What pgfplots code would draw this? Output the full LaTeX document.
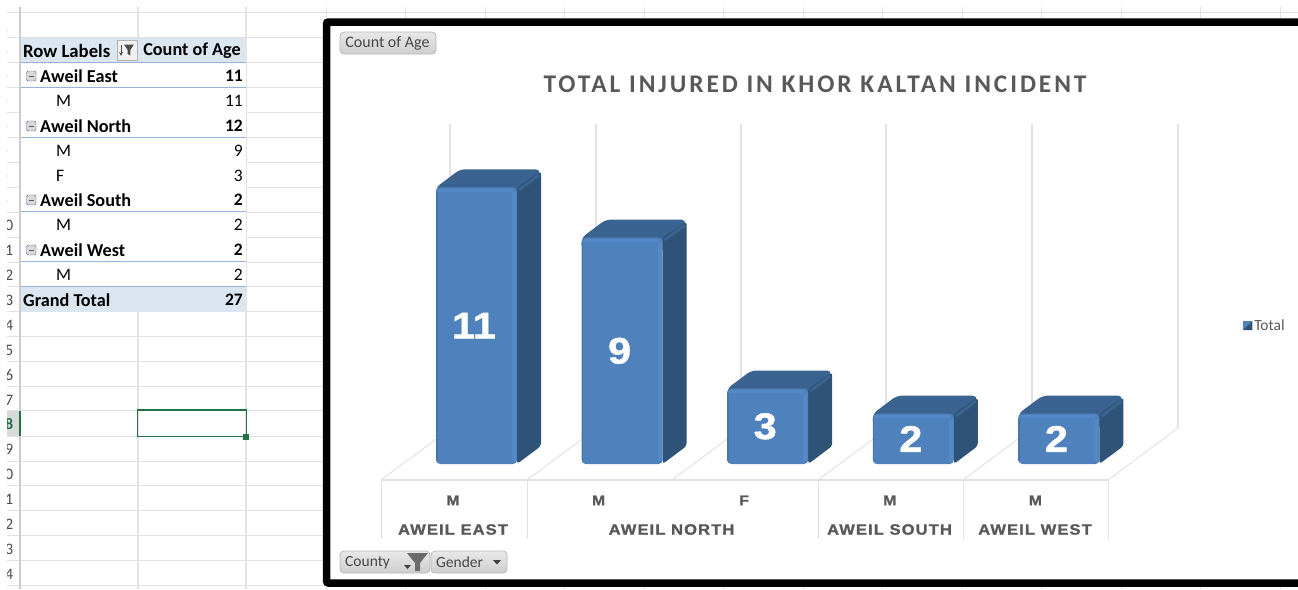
\documentclass[border=0pt]{standalone}
\usepackage{pgfplots}
\pgfplotsset{compat=1.18}
\usepackage{fontspec}
\setmainfont{Carlito}
\newfontfamily\arb[FakeBold=1.2,FakeStretch=1.12]{Liberation Sans Bold}
\newfontfamily\arbsp[FakeBold=1.3,FakeStretch=1.1,LetterSpace=7.5]{Liberation Sans Bold}
\newfontfamily\titlef[LetterSpace=11.5]{Carlito Bold}
\newcommand{\fs}[1]{\fontsize{#1}{#1}\selectfont}
\definecolor{front}{HTML}{4F81BD}
\definecolor{frontlt}{HTML}{5488C6}
\definecolor{frontdk}{HTML}{4675AE}
\definecolor{sidec}{HTML}{2F5277}
\definecolor{topc}{HTML}{3B6391}
\definecolor{gridc}{HTML}{E2E2E2}
\definecolor{band}{HTML}{DCE6F1}
\definecolor{bandline}{HTML}{95B3D7}
\definecolor{xlgreen}{HTML}{217346}
\definecolor{labc}{HTML}{595959}
\pgfplotstableread{
x y label
0 5.5 11
1 4.5 9
2 1.5 3
3 1 2
4 1 2
}\barlabels
\begin{document}
\begin{tikzpicture}
\useasboundingbox (0,0) rectangle (1298pt,-589pt);
\begin{scope}[x=1pt,y=-1pt]
\fill[white] (0,0) rectangle (1298,589);
% --- sheet grid
\begin{scope}
\clip (7,7) rectangle (1298,589);
\foreach \y in {37,62,87,112,137,162,187,212,237,262,286,311,336,361,386,410,436,461,485,510,535,560,585}
  \draw[gridc,line width=1pt] (7,\y) -- (323,\y);
\draw[gridc,line width=1pt] (7,12.5) -- (1298,12.5);
\foreach \x in {138,246}
  \draw[gridc,line width=1.2pt] (\x,7) -- (\x,589);
\foreach \x in {326,405,485,564,644,723,803,882,962,1041,1121,1200,1280}{
  \draw[gridc,line width=1pt] (\x,7) -- (\x,18);
  \draw[gridc,line width=1pt] (\x,586) -- (\x,589);}
\fill[gray!30] (7,411) rectangle (20,436);
\foreach \n/\y in {0/225,1/250,2/275,3/300,4/325,5/350,6/375,7/400,9/449,0/474,1/499,2/524,3/549,4/574}
  \node[anchor=east,inner sep=0pt,text=black!70] at (13.5,\y) {\fs{16}\n};
\node[anchor=east,inner sep=0pt,text=xlgreen] at (13.5,424) {\fs{16}\textbf{8}};
\foreach \y in {30,52,76,101,126,151,176,201}
  \fill[cyan!25] (7.5,\y) circle (0.9);
\end{scope}
\draw[gray!40,line width=1.6pt] (20,7) -- (20,589);
\fill[xlgreen] (18.5,411) rectangle (20.5,436);
% --- pivot table
\fill[white] (20.8,62) rectangle (245.5,286);
\fill[band] (20.8,37.5) rectangle (245.5,62);
\fill[band] (20.8,286) rectangle (245.5,311.5);
\foreach \y in {62,87,137,211,261,286}
  \draw[bandline,line width=0.9pt] (20.8,\y) -- (246,\y);
\foreach \y in {112,162,187,237}
  \draw[gridc] (246,\y) -- (323,\y);
\node[anchor=west,inner sep=0pt] at (23,51) {\fs{18.7}\textbf{Row Labels}};
\draw[gray!60,fill=gray!12] (117,40.5) rectangle (137,60);
\fill[black!70] (124,44.5) -- (134,44.5) -- (130.3,50) -- (130.3,55.5) -- (127.7,54) -- (127.7,50) -- cycle;
\draw[black!70,line width=0.8pt,-stealth] (121,45) -- (121,56);
\node[anchor=east,inner sep=0pt] at (241,51) {\fs{18.2}\textbf{Count of Age}};
\foreach \t/\v/\y in {Aweil East/11/76,Aweil North/12/126,Aweil South/2/200,Aweil West/2/250}{
  \draw[gray!70!blue,fill=gray!30,rounded corners=1.5pt] (26.5,\y-5) rectangle (36,\y+5);
  \draw[black!65,line width=0.9pt] (28.5,\y) -- (34,\y);
  \node[anchor=west,inner sep=0pt] at (40,\y) {\fs{18.2}\textbf{\t}};
  \node[anchor=east,inner sep=0pt] at (243,\y) {\fs{17.5}\textbf{\v}};}
\foreach \t/\v/\y in {M/11/101,M/9/151,F/3/176,M/2/225,M/2/275}{
  \node[anchor=west,inner sep=0pt] at (56,\y) {\fs{17.5}\t};
  \node[anchor=east,inner sep=0pt] at (243,\y) {\fs{17.5}\v};}
\node[anchor=west,inner sep=0pt] at (23,300) {\fs{18.2}\textbf{Grand Total}};
\node[anchor=east,inner sep=0pt] at (243,300) {\fs{17.5}\textbf{27}};
% selection
\draw[xlgreen,line width=1.6pt] (137.5,410) rectangle (246.5,436.5);
\fill[xlgreen] (243,433.5) rectangle (249,439.5);
% --- chart frame
\fill[white] (326,22) rectangle (1298,583);
\draw[black,line width=7.5pt,rounded corners=2pt] (1310,22) -- (326.5,22) -- (326.5,583) -- (1310,583);
% --- 3-D wall and floor lines
\foreach \x in {450,596,741,886,1032,1178}
  \draw[gridc,line width=1.2pt] (\x,124) -- (\x,428);
\foreach \x in {381,527,672,818,963,1108}
  \draw[gridc,line width=1pt] (\x,480) -- (\x+70,428);
\draw[gridc,line width=1.2pt] (381,480) -- (1108,480);
\foreach \x in {381,527,818,963,1108}
  \draw[gridc,line width=1pt] (\x,480) -- (\x,539);
% --- title
\node[inner sep=0pt,text=labc] at (815,84) {\fs{25.4}\titlef TOTAL INJURED IN KHOR KALTAN INCIDENT};
% --- chart axis spanning the whole picture: 1 category = 145.6 px, 1 unit = 25.15 px
\begin{axis}[
  at={(0pt,-589pt)},anchor=south west,
  scale only axis,width=1298pt,height=589pt,
  xmin=-3.2727,xmax=5.642,ymin=-4.97,ymax=18.45,
  axis line style={draw=none},major tick length=0pt,
  ytick=\empty,xtick={0,1,2,3,4},xticklabels={M,M,F,M,M},
  xticklabel style={xshift=-23.5pt,yshift=97pt,text=labc,font=\arb\fs{14}},
  clip=false,unbounded coords=jump,
  legend style={at={(axis cs:5.415,5.5)},anchor=center,draw=none,fill=none,font=\fs{15.5}\color{labc},inner sep=0pt,
    legend cell align=left},
  legend image code/.code={\fill[front,sharp corners] (0pt,-4.5pt) rectangle (9pt,4.5pt);
    \fill[sidec,sharp corners] (9pt,-4.5pt) -- (9pt,4.5pt) -- (0pt,-4.5pt) -- cycle;},
]
% top faces (running on under the front and side faces)
\addplot[forget plot,fill=topc,draw=none,rounded corners=5pt] coordinates {(-0.278,10.5)(-0.278,11)(-0.113,11.716)(0.443,11.716)(0.35,10.5)} --cycle;
\addplot[forget plot,fill=topc,draw=none,rounded corners=5pt] coordinates {(0.722,8.5)(0.722,9)(0.887,9.716)(1.443,9.716)(1.35,8.5)} --cycle;
\addplot[forget plot,fill=topc,draw=none,rounded corners=5pt] coordinates {(1.722,2.5)(1.722,3)(1.887,3.716)(2.443,3.716)(2.35,2.5)} --cycle;
\addplot[forget plot,fill=topc,draw=none,rounded corners=5pt] coordinates {(2.722,1.5)(2.722,2)(2.887,2.716)(3.443,2.716)(3.35,1.5)} --cycle;
\addplot[forget plot,fill=topc,draw=none,rounded corners=5pt] coordinates {(3.722,1.5)(3.722,2)(3.887,2.716)(4.443,2.716)(4.35,1.5)} --cycle;
% side faces
\addplot[forget plot,fill=sidec,draw=none,rounded corners=3pt] coordinates {(0.278,0)(0.443,0.716)(0.443,11.65)(0.278,11)} --cycle;
\addplot[forget plot,fill=sidec,draw=none,rounded corners=3pt] coordinates {(1.278,0)(1.443,0.716)(1.443,9.65)(1.278,9)} --cycle;
\addplot[forget plot,fill=sidec,draw=none,rounded corners=3pt] coordinates {(2.278,0)(2.443,0.716)(2.443,3.65)(2.278,3)} --cycle;
\addplot[forget plot,fill=sidec,draw=none,rounded corners=3pt] coordinates {(3.278,0)(3.443,0.716)(3.443,2.65)(3.278,2)} --cycle;
\addplot[forget plot,fill=sidec,draw=none,rounded corners=3pt] coordinates {(4.278,0)(4.443,0.716)(4.443,2.65)(4.278,2)} --cycle;
% bevel between top and side
\addplot[forget plot,topc,line width=3pt] coordinates {(0.292,10.9)(0.43,11.5)(nan,nan)(1.292,8.9)(1.43,9.5)(nan,nan)(2.292,2.9)(2.43,3.5)(nan,nan)(3.292,1.9)(3.43,2.5)(nan,nan)(4.292,1.9)(4.43,2.5)};
% front faces
\addplot[fill=front,draw=none,rounded corners=4pt] coordinates {(-0.278,0)(-0.278,11)(0.278,11)(0.278,0)} --cycle;
\addlegendentry{Total}
\addplot[forget plot,fill=front,draw=none,rounded corners=4pt] coordinates {(0.722,0)(0.722,9)(1.278,9)(1.278,0)} --cycle;
\addplot[forget plot,fill=front,draw=none,rounded corners=4pt] coordinates {(1.722,0)(1.722,3)(2.278,3)(2.278,0)} --cycle;
\addplot[forget plot,fill=front,draw=none,rounded corners=4pt] coordinates {(2.722,0)(2.722,2)(3.278,2)(3.278,0)} --cycle;
\addplot[forget plot,fill=front,draw=none,rounded corners=4pt] coordinates {(3.722,0)(3.722,2)(4.278,2)(4.278,0)} --cycle;
% bevel highlights
\addplot[forget plot,frontlt,line width=4pt] coordinates {(0.258,0.1)(0.258,10.8)(nan,nan)(1.258,0.1)(1.258,8.8)(nan,nan)(2.258,0.1)(2.258,2.8)(nan,nan)(3.258,0.1)(3.258,1.8)(nan,nan)(4.258,0.1)(4.258,1.8)};
\addplot[forget plot,frontlt,line width=3pt] coordinates {(-0.26,10.87)(0.25,10.87)(nan,nan)(0.74,8.87)(1.25,8.87)(nan,nan)(1.74,2.87)(2.25,2.87)(nan,nan)(2.74,1.87)(3.25,1.87)(nan,nan)(3.74,1.87)(4.25,1.87)};
\addplot[forget plot,frontdk,line width=1.5pt] coordinates {(-0.273,0.1)(-0.273,10.8)(nan,nan)(0.727,0.1)(0.727,8.8)(nan,nan)(1.727,0.1)(1.727,2.8)(nan,nan)(2.727,0.1)(2.727,1.8)(nan,nan)(3.727,0.1)(3.727,1.8)};
% bar labels
\addplot[forget plot,draw=none,mark=none,point meta=explicit symbolic,nodes near coords,
  nodes near coords style={anchor=center,inner sep=0pt,xshift=-2.5pt,text=white,font=\arb\fs{37}}]
  table[x=x,y=y,meta=label] {\barlabels};
\end{axis}
% --- group labels
\foreach \t/\x in {AWEIL EAST/453,AWEIL NORTH/671.5,AWEIL SOUTH/889.5,AWEIL WEST/1035}
  \node[inner sep=0pt,text=labc] at (\x,529.5) {\fs{15}\arbsp \t};
% --- field buttons
\tikzset{fbtn/.style={draw=gray!55,line width=0.8pt,rounded corners=4pt,top color=gray!18,bottom color=gray!38}}
\path[fbtn] (340,32) rectangle (436,54);
\node[inner sep=0pt,text=black!72] at (387.5,43) {\fs{16}Count of Age};
\path[fbtn] (340,551) rectangle (430,573);
\node[anchor=west,inner sep=0pt,text=black!72] at (345,562.5) {\fs{15.5}County};
\fill[black!75] (404,565) -- (411,565) -- (407.5,569) -- cycle;
\fill[black!58] (407,553) -- (428,553) -- (420,563) -- (420,571) -- (415,571) -- (415,563) -- cycle;
\path[fbtn] (431,551) rectangle (507,573);
\node[anchor=west,inner sep=0pt,text=black!72] at (436,562.5) {\fs{15.5}Gender};
\fill[black!75] (493,560) -- (501,560) -- (497,564.5) -- cycle;
\end{scope}
\end{tikzpicture}
\end{document}
